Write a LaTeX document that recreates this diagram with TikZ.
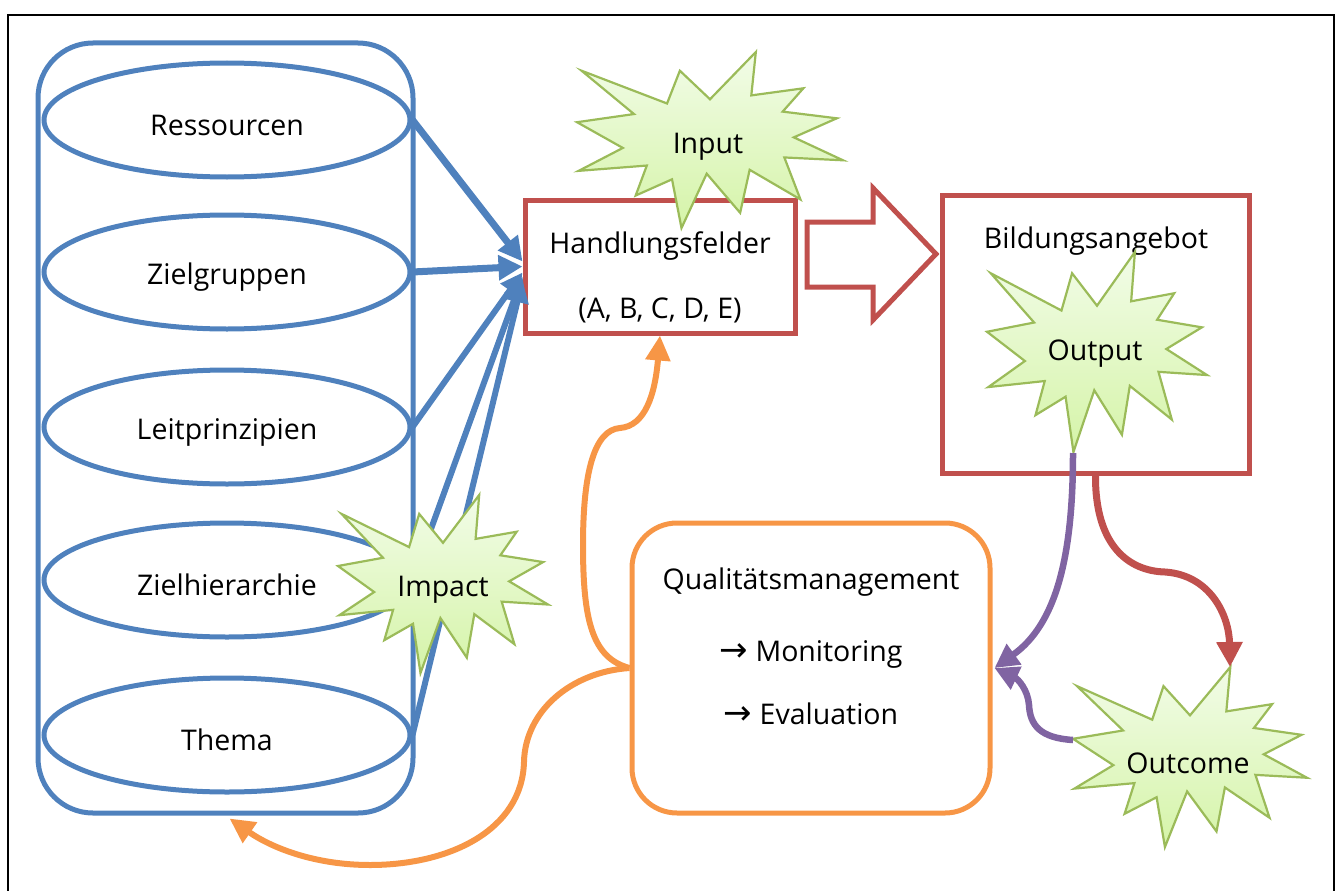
\documentclass[tikz,border=0pt]{standalone}
\usepackage{fontspec}
\setmainfont{Open Sans}
\newfontfamily\symfont{DejaVu Sans}
\usetikzlibrary{arrows.meta,shapes.geometric}
\definecolor{oblue}{HTML}{4F81BD}
\definecolor{ored}{HTML}{C0504D}
\definecolor{oorange}{HTML}{F79646}
\definecolor{opurple}{HTML}{8064A2}
\definecolor{ogreen}{HTML}{9BBB59}
\definecolor{gtop}{HTML}{F2FCE8}
\definecolor{gbot}{HTML}{D5F4A8}
\tikzset{
  seal/.style={draw=ogreen,line width=2.2pt,top color=gtop,bottom color=gbot,line join=miter},
  lbl/.style={font=\fontsize{28.5}{33}\selectfont,inner sep=0pt,text=black},
  ell/.style={ellipse,draw=oblue,line width=5pt,minimum width=366pt,minimum height=114pt,inner sep=0pt},
  rbox/.style={draw=ored,line width=5pt,inner sep=0pt},
  bluearrow/.style={oblue,line width=7pt,-{Triangle[length=24pt,width=24pt]}},
  bluethin/.style={oblue,line width=6pt,-{Triangle[length=22pt,width=22pt]}},
  orangearrow/.style={oorange,line width=6pt,-{Triangle[length=25pt,width=24pt]}},
  purplearrow/.style={opurple,line width=6.5pt,-{Triangle[length=24pt,width=24pt]}},
  redarrow/.style={ored,line width=7pt,-{Triangle[length=25pt,width=25pt]}},
}
\newcommand\irrseal[4]{%
  \begin{scope}[shift={(#1pt,-#2pt)},x=#3pt,y=-#4pt]
    \draw[seal] (0.5,0.2685)--(0.6723,0)--(0.6553,0.2465)--(0.8509,0.2063)--(0.7732,0.3387)--(0.9767,0.3767)--(0.8151,0.4850)--(1,0.6153)--(0.7795,0.5992)--(0.8400,0.8377)--(0.6491,0.6693)--(0.6133,0.9137)--(0.4876,0.6914)--(0.3928,1)--(0.3572,0.7235)--(0.2205,0.8156)--(0.2624,0.6452)--(0.00625,0.6753)--(0.1723,0.5451)--(0,0.3988)--(0.2142,0.3526)--(0.0171,0.1063)--(0.3385,0.2926)--(0.3867,0.1063)--cycle;
  \end{scope}}
\newcommand\rarr{{\symfont\fontsize{34}{34}\selectfont →}}
\begin{document}
\begin{tikzpicture}[x=1pt,y=-1pt]
\useasboundingbox (0,0) rectangle (1341,891);
% outer frame
\draw[line width=2.5pt] (8,895) -- (8,15) -- (1334,15) -- (1334,895);

% left stack
\node[draw=oblue,line width=5pt,rounded corners=55pt,minimum width=375pt,minimum height=770pt,inner sep=0pt] (stack) at (225.5,428) {};
\node[ell] (e1) at (227,120) {};
\node[ell] (e2) at (227,272) {};
\node[ell] (e3) at (227,427) {};
\node[ell] (e4) at (227,580) {};
\node[ell] (e5) at (227,735) {};
\node[lbl] (t1) at (227,125) {Ressourcen};
\node[lbl] (t2) at (227,277) {Zielgruppen};
\node[lbl] (t3) at (227,432) {Leitprinzipien};
\node[lbl] (t4) at (227,585) {Zielhierarchie};
\node[lbl] (t5) at (227,740) {Thema};

% Handlungsfelder box
\node[rbox,minimum width=270pt,minimum height=133pt] (hf) at (660,266.5) {};
\node[lbl] (hft1) at (660,246) {Handlungsfelder};
\node[lbl] (hft2) at (660,310) {(A, B, C, D, E)};

% blue arrows
\draw[bluearrow] (e1.east) -- ([yshift=5pt]hf.west);
\draw[bluearrow] (e2.east) -- ([yshift=0pt]hf.west);
\draw[bluethin] (e3.east) -- ([yshift=-6pt]hf.west);
\draw[bluethin] (e4.east) -- ([yshift=-10pt]hf.west);
\draw[bluethin] (e5.east) -- ([yshift=-14pt]hf.west);

% Impact star
\irrseal{338}{495}{210}{178}
\node[lbl] (impact) at (443,590) {Impact};

% Input star
\irrseal{577}{52}{266}{176}
\node[lbl] (input) at (708,147) {Input};

% block arrow
\draw[ored,line width=5pt,fill=white,line join=miter] (807,222)--(873,222)--(873,188)--(936,254)--(873,320)--(873,287)--(807,287)--cycle;

% Bildungsangebot
\node[rbox,minimum width=307pt,minimum height=278pt] (ba) at (1095.5,334) {};
\node[lbl] (bat) at (1096,241) {Bildungsangebot};
\irrseal{987}{252}{220}{200}
\node[lbl] (output) at (1095,354) {Output};
\coordinate (outb) at (1073,453);

% Qualitaetsmanagement
\node[draw=oorange,line width=5pt,rounded corners=45pt,minimum width=358pt,minimum height=290pt,inner sep=0pt] (qm) at (811,668) {};
\node[lbl] (qmt1) at (811,582) {Qualitätsmanagement};
\node[lbl,anchor=base] (qmt2) at (811,661) {\rarr\ Monitoring};
\node[lbl,anchor=base] (qmt3) at (811,724) {\rarr\ Evaluation};

% Outcome star
\irrseal{1073}{667}{234}{180}
\node[lbl] (outcome) at (1188,763) {Outcome};
\coordinate (outcl) at (1073,740);
\coordinate (outct) at (1230,667);

% orange connectors
\draw[orangearrow] (qm.west) .. controls (592,658) and (583,620) .. (583,545) .. controls (583,470) and (595,430) .. (620,428) .. controls (645,426) and (655,395) .. ([xshift=0pt]hf.south);
\draw[orangearrow] (qm.west) .. controls (570,672) and (525,712) .. (524,762) .. controls (522,830) and (450,865) .. (370,865) .. controls (315,865) and (272,848) .. ([xshift=4pt,yshift=-3pt]stack.south);

% purple connectors
\draw[purplearrow] (outb) .. controls (1073,560) and (1055,625) .. ([xshift=2pt]qm.east);
\draw[purplearrow] (outcl) .. controls (1040,738) and (1030,725) .. (1029,705) .. controls (1028,690) and (1018,679) .. ([xshift=2pt]qm.east);

% red connector
\draw[redarrow] (ba.south) .. controls (1095,545) and (1128,571) .. (1165,572) .. controls (1210,575) and (1229,615) .. (outct);
\end{tikzpicture}
\end{document}
